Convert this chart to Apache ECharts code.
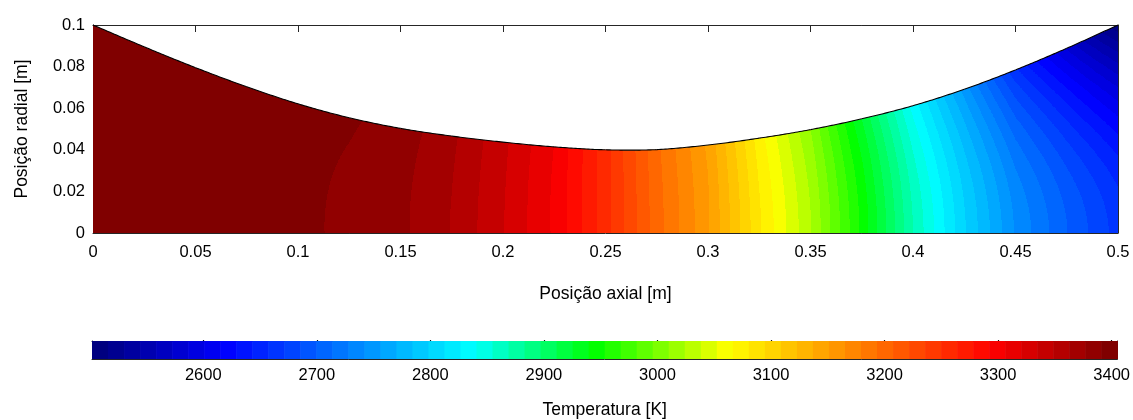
<!DOCTYPE html>
<html>
<head>
<meta charset="utf-8">
<script src="https://cdn.jsdelivr.net/npm/echarts@6/dist/echarts.min.js"></script>
<style>
html,body{margin:0;padding:0;background:#fff;}
#chart{width:1133px;height:420px;}
</style>
</head>
<body>
<div id="chart"></div>
<script>
// ---------- data ----------
const axialPos   = [0, 0.025, 0.05, 0.075, 0.1, 0.125, 0.15, 0.175, 0.2, 0.225, 0.25, 0.275, 0.3, 0.325, 0.35, 0.375, 0.4, 0.425, 0.45, 0.475, 0.5];
const wallRadius = [0.1, 0.0895, 0.0795, 0.0703, 0.0621, 0.0554, 0.0503, 0.0466, 0.0437, 0.0414, 0.0400, 0.0401, 0.0423, 0.0456, 0.0497, 0.0549, 0.0612, 0.0691, 0.0784, 0.0888, 0.1];
// temperature [K] on the axis (r = 0), at half radius and at the wall
const radialFrac = [0, 0.5, 1];
const tempAxis = [3404, 3403, 3401, 3398, 3394, 3388, 3380, 3362, 3335, 3304, 3256, 3200, 3153, 3083, 3025, 2950, 2869, 2800, 2740, 2700, 2665];
const tempMid  = [3404, 3403, 3401, 3399, 3395, 3389, 3381, 3363, 3336, 3304, 3256, 3199, 3152, 3080, 3021, 2944, 2860, 2788, 2720, 2671, 2625];
const tempWall = [3405, 3404, 3403, 3401, 3398, 3393, 3385, 3366, 3338, 3306, 3256, 3197, 3148, 3073, 3010, 2925, 2835, 2750, 2660, 2585, 2505];
const colorbarTicks = [2600, 2700, 2800, 2900, 3000, 3100, 3200, 3300, 3400];
const tempMin = 2502;
const tempMax = 3405;
const nLevels = 64;

// ---------- colour map (style) ----------
const cmapStops = [
  [0.0000, [0, 0, 128]],
  [0.1251, [0, 0, 255]],
  [0.3688, [0, 255, 255]],
  [0.4906, [0, 255, 0]],
  [0.6224, [255, 255, 0]],
  [0.8837, [255, 0, 0]],
  [1.0000, [128, 0, 0]]
];
function cmap(t) {
  t = Math.max(0, Math.min(1, t));
  for (let i = 1; i < cmapStops.length; i++) {
    if (t <= cmapStops[i][0]) {
      const a = cmapStops[i - 1], b = cmapStops[i];
      const u = (t - a[0]) / (b[0] - a[0]);
      const c = a[1].map((v, k) => Math.round(v + (b[1][k] - v) * u));
      return 'rgb(' + c.join(',') + ')';
    }
  }
  return 'rgb(128,0,0)';
}
const dT = (tempMax - tempMin) / nLevels;
const bandColors = [];
for (let k = 0; k < nLevels; k++) bandColors.push(cmap(k / (nLevels - 1)));
function bandOf(T) {
  const b = Math.floor((T - tempMin) / dT);
  return Math.max(0, Math.min(nLevels - 1, b));
}
function lerp(a, b, t) { return a + (b - a) * t; }

// smooth wall outline between the read wall points (Catmull-Rom)
function wallAt(i, t) {
  const n = wallRadius.length;
  const P1 = wallRadius[i], P2 = wallRadius[i + 1];
  const P0 = i > 0 ? wallRadius[i - 1] : 2 * P1 - P2;
  const P3 = i + 2 < n ? wallRadius[i + 2] : 2 * P2 - P1;
  return 0.5 * (2 * P1 + (-P0 + P2) * t + (2 * P0 - 5 * P1 + 4 * P2 - P3) * t * t + (-P0 + 3 * P1 - 3 * P2 + P3) * t * t * t);
}
// quadratic shading through the three radial samples
function radialT(prof, f) {
  const a = radialFrac[0], b = radialFrac[1], c = radialFrac[2];
  const l0 = (f - b) * (f - c) / ((a - b) * (a - c));
  const l1 = (f - a) * (f - c) / ((b - a) * (b - c));
  const l2 = (f - a) * (f - b) / ((c - a) * (c - b));
  return prof[0] * l0 + prof[1] * l1 + prof[2] * l2;
}

const FONT = "'Liberation Sans', Arial, sans-serif";
const txt = { color: '#000', fontSize: 16.5, fontFamily: FONT };
const nameTxt = { color: '#000', fontSize: 17.5, fontFamily: FONT };
const lineCol = '#262626';

// ---------- filled contour field (one pixel column at a time) ----------
function renderField(params, api) {
  const i = api.value(2);
  const x0 = axialPos[i], x1 = axialPos[i + 1];
  const px0 = api.coord([x0, 0])[0], px1 = api.coord([x1, 0])[0];
  const yBase = api.coord([x0, 0])[1];
  const c0 = Math.round(px0), c1 = Math.round(px1);
  const NR = 300;
  const children = [];
  const tOf = px => (px - px0) / (px1 - px0);
  for (let c = c0; c < c1; c++) {
    const ta = tOf(c), tb = tOf(c + 1), tc = tOf(c + 0.5);
    const xa = lerp(x0, x1, ta), xb = lerp(x0, x1, tb), xc = lerp(x0, x1, tc);
    const wA = wallAt(i, ta), wB = wallAt(i, tb), wC = wallAt(i, tc);
    const prof = [
      lerp(tempAxis[i], tempAxis[i + 1], tc),
      lerp(tempMid[i], tempMid[i + 1], tc),
      lerp(tempWall[i], tempWall[i + 1], tc)
    ];
    let yLow = yBase;
    let cur = bandOf(radialT(prof, 0.5 / NR));
    for (let j = 1; j <= NR; j++) {
      const b = j < NR ? bandOf(radialT(prof, (j + 0.5) / NR)) : -1;
      if (b !== cur) {
        let pts;
        if (j === NR) {
          const yA = api.coord([xa, wA])[1], yB = api.coord([xb, wB])[1];
          pts = [[c, yLow], [c + 1, yLow], [c + 1, yB], [c, yA]];
        } else {
          const yTop = Math.round(api.coord([xc, (j / NR) * wC])[1]);
          pts = [[c, yLow], [c + 1, yLow], [c + 1, yTop], [c, yTop]];
          yLow = yTop;
        }
        children.push({
          type: 'polygon',
          shape: { points: pts },
          style: { fill: bandColors[cur], stroke: null }
        });
        cur = b;
      }
    }
  }
  return { type: 'group', children: children };
}

// ---------- wall outline ----------
function renderWall(params, api) {
  const i = api.value(2);
  const x0 = axialPos[i], x1 = axialPos[i + 1];
  const pts = [];
  const N = 24;
  for (let k = 0; k <= N; k++) {
    const t = k / N;
    pts.push(api.coord([lerp(x0, x1, t), wallAt(i, t)]));
  }
  return {
    type: 'polyline',
    shape: { points: pts },
    style: { stroke: '#000', lineWidth: 1.1, fill: null }
  };
}

// ---------- colour bar ----------
const colorbarBands = [];
for (let k = 0; k < nLevels; k++) colorbarBands.push([tempMin + k * dT, tempMin + (k + 1) * dT, k]);
function renderBar(params, api) {
  const p0 = api.coord([api.value(0), 0]);
  const p1 = api.coord([api.value(1), 1]);
  const c = bandColors[api.value(2)];
  return {
    type: 'rect',
    shape: { x: p0[0], y: p1[1], width: p1[0] - p0[0] + 0.6, height: p0[1] - p1[1] },
    style: { fill: c, stroke: null }
  };
}

const intervals = axialPos.slice(0, -1).map((x, i) => [x, axialPos[i + 1], i]);

const chart = echarts.init(document.getElementById('chart'), null, { renderer: 'canvas' });
chart.setOption({
  animation: false,
  backgroundColor: '#fff',
  grid: [
    { left: 93, right: 15, top: 25, height: 208 },
    { left: 92, right: 14, top: 341, height: 19 }
  ],
  xAxis: [
    {
      gridIndex: 0, type: 'value', min: 0, max: 0.5, interval: 0.05, position: 'bottom',
      axisLine: { show: true, onZero: false, lineStyle: { color: lineCol, width: 1 } },
      axisTick: { show: true, inside: true, length: 7, lineStyle: { color: lineCol } },
      axisLabel: Object.assign({ margin: 11, showMinLabel: true, showMaxLabel: true }, txt),
      splitLine: { show: false },
      name: 'Posição axial [m]', nameLocation: 'middle', nameGap: 52,
      nameTextStyle: nameTxt
    },
    {
      gridIndex: 0, type: 'value', min: 0, max: 0.5, interval: 0.05, position: 'top',
      axisLine: { show: true, onZero: false, lineStyle: { color: lineCol, width: 1 } },
      axisTick: { show: true, inside: true, length: 7, lineStyle: { color: lineCol } },
      axisLabel: { show: false }, splitLine: { show: false }
    },
    {
      gridIndex: 1, type: 'value', min: tempMin, max: tempMax, position: 'bottom',
      axisLine: { show: true, onZero: false, lineStyle: { color: lineCol, width: 1 } },
      axisTick: { show: true, inside: true, length: 19, customValues: colorbarTicks, lineStyle: { color: '#111', width: 1.2 } },
      axisLabel: Object.assign({ margin: 8, customValues: colorbarTicks, formatter: v => String(Math.round(v)) }, txt),
      splitLine: { show: false },
      name: 'Temperatura [K]', nameLocation: 'middle', nameGap: 42,
      nameTextStyle: nameTxt
    },
    {
      gridIndex: 1, type: 'value', min: tempMin, max: tempMax, position: 'top',
      axisLine: { show: true, onZero: false, lineStyle: { color: lineCol, width: 1 } },
      axisTick: { show: false }, axisLabel: { show: false }, splitLine: { show: false }
    }
  ],
  yAxis: [
    {
      gridIndex: 0, type: 'value', min: 0, max: 0.1, interval: 0.02, position: 'left',
      axisLine: { show: true, onZero: false, lineStyle: { color: lineCol, width: 1 } },
      axisTick: { show: true, inside: true, length: 7, lineStyle: { color: lineCol } },
      axisLabel: Object.assign({ margin: 8, showMinLabel: true, showMaxLabel: true }, txt),
      splitLine: { show: false },
      name: 'Posição radial [m]', nameLocation: 'middle', nameGap: 62, nameRotate: 90,
      nameTextStyle: nameTxt
    },
    {
      gridIndex: 0, type: 'value', min: 0, max: 0.1, interval: 0.02, position: 'right',
      axisLine: { show: true, onZero: false, lineStyle: { color: lineCol, width: 1 } },
      axisTick: { show: true, inside: true, length: 7, lineStyle: { color: lineCol } },
      axisLabel: { show: false }, splitLine: { show: false }
    },
    {
      gridIndex: 1, type: 'value', min: 0, max: 1, position: 'left',
      axisLine: { show: true, onZero: false, lineStyle: { color: lineCol, width: 1 } },
      axisTick: { show: false }, axisLabel: { show: false }, splitLine: { show: false }
    },
    {
      gridIndex: 1, type: 'value', min: 0, max: 1, position: 'right',
      axisLine: { show: true, onZero: false, lineStyle: { color: lineCol, width: 1 } },
      axisTick: { show: false }, axisLabel: { show: false }, splitLine: { show: false }
    }
  ],
  series: [
    {
      type: 'custom', name: 'field', xAxisIndex: 0, yAxisIndex: 0,
      silent: true, clip: true, z: 1,
      encode: { x: [0, 1], y: -1 },
      data: intervals,
      renderItem: renderField
    },
    {
      type: 'custom', name: 'wall', xAxisIndex: 0, yAxisIndex: 0,
      silent: true, clip: false, z: 3,
      encode: { x: [0, 1], y: -1 },
      data: intervals,
      renderItem: renderWall
    },
    {
      type: 'custom', name: 'colorbar', xAxisIndex: 2, yAxisIndex: 2,
      silent: true, z: 1,
      encode: { x: [0, 1], y: -1 },
      data: colorbarBands,
      renderItem: renderBar
    }
  ]
});
</script>
</body>
</html>
